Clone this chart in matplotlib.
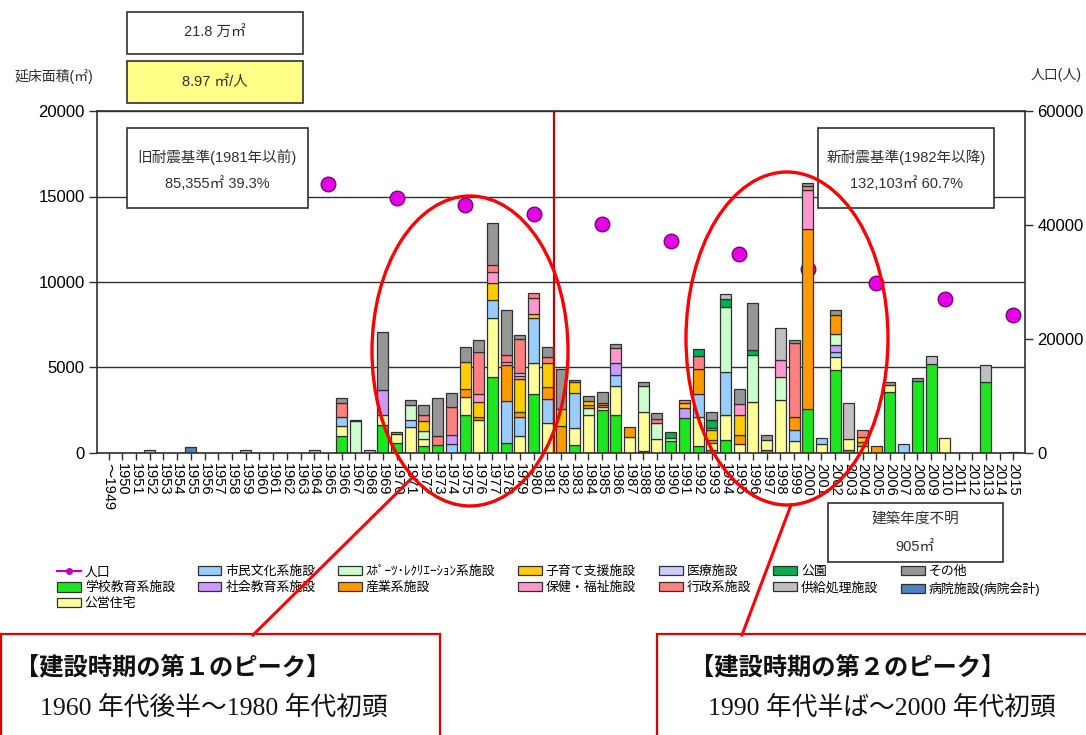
import numpy as np
import matplotlib
matplotlib.use('Agg')
import matplotlib.pyplot as plt
from matplotlib.patches import Rectangle, Ellipse, Patch
from matplotlib.lines import Line2D

plt.rcParams['font.family'] = ['Liberation Sans', 'Noto Sans CJK JP']

# ---------------- data ----------------
years = list(range(1949, 2016))
xlabels = ['～1949'] + [str(y) for y in range(1950, 2016)]

school = {1966: 1000, 1969: 1640, 1970: 585, 1972: 430, 1973: 470, 1975: 2240, 1977: 4420,
          1978: 585, 1980: 3450, 1983: 450, 1985: 2500, 1986: 2245, 1988: 117, 1990: 700,
          1991: 2070, 1992: 392, 1993: 150, 1994: 784, 1997: 199, 2000: 2597, 2002: 4836,
          2003: 158, 2006: 3567, 2008: 4210, 2009: 5228, 2013: 4152}
housing = {1966: 585, 1969: 604, 1970: 526, 1971: 1520, 1972: 392, 1975: 1053, 1976: 1930,
           1977: 3450, 1979: 1012, 1980: 1790, 1981: 1731, 1983: 1035, 1984: 2220, 1986: 1672,
           1987: 936, 1988: 2280, 1989: 842, 1992: 1713, 1993: 433, 1994: 1421, 1995: 550,
           1996: 2982, 1997: 544, 1998: 3082, 1999: 702, 2001: 509, 2002: 778, 2003: 684,
           2004: 392, 2006: 392, 2010: 850}
culture = {1966: 526, 1971: 429, 1974: 526, 1977: 1076, 1978: 2433, 1979: 1070, 1980: 2655,
           1981: 1427, 1983: 2023, 1986: 626, 1992: 1327, 1994: 2532, 1999: 626, 2001: 392,
           2002: 292, 2007: 526}
social_edu = {1969: 1462, 1974: 526, 1986: 743, 1991: 585, 2002: 392}
sports = {1967: 1880, 1971: 838, 1972: 444, 1984: 429, 1985: 175, 1988: 1520, 1989: 936,
          1990: 199, 1994: 3801, 1996: 2725, 1998: 1363, 2002: 684}
industry = {1975: 450, 1976: 175, 1978: 2146, 1979: 292, 1981: 678, 1982: 1561, 1984: 150,
            1985: 117, 1987: 585, 1992: 1462, 1993: 152, 1995: 485, 1999: 778, 2000: 10526,
            2002: 1070, 2004: 250, 2005: 392}
childcare = {1972: 585, 1975: 1556, 1976: 895, 1977: 971, 1979: 1953, 1980: 234, 1981: 1404,
             1982: 994, 1983: 643, 1984: 270, 1991: 269, 1993: 585, 1995: 1170, 2004: 292}
welfare = {1976: 433, 1977: 643, 1978: 135, 1979: 193, 1980: 912, 1986: 877, 1993: 152,
           1995: 684, 1998: 977, 2000: 2281}
medical = {1979: 175}
admin = {1966: 819, 1972: 374, 1973: 526, 1974: 1614, 1976: 2491, 1977: 433, 1978: 450,
         1979: 1950, 1980: 316, 1981: 351, 1985: 146, 1989: 193, 1991: 199, 1992: 778,
         1999: 4327, 2000: 193, 2004: 433}
park = {1990: 327, 1992: 392, 1993: 433, 1994: 491, 1996: 292}
supply = {1952: 150, 1959: 200, 1964: 150, 1968: 150, 1994: 292, 1998: 1912, 2003: 2082,
          2009: 450, 2013: 977}
other = {1966: 290, 1967: 50, 1969: 3351, 1970: 100, 1971: 290, 1972: 604, 1973: 2240,
         1974: 842, 1975: 877, 1976: 667, 1977: 2433, 1978: 2614, 1979: 275, 1981: 585,
         1982: 2380, 1983: 135, 1984: 250, 1985: 643, 1986: 193, 1988: 234, 1989: 392,
         1993: 485, 1995: 877, 1996: 2772, 1997: 292, 1999: 193, 2000: 193, 2002: 333,
         2006: 193, 2008: 175, 2015: 80}
hospital = {1955: 380}

pop_years = [1965, 1970, 1975, 1980, 1985, 1990, 1995, 2000, 2005, 2010, 2015]
population = [47200, 44700, 43500, 41900, 40200, 37200, 34900, 32300, 29800, 27000, 24200]

series = [
    ('学校教育系施設', '#1EE61E', school),
    ('公営住宅', '#FFFF99', housing),
    ('市民文化系施設', '#99CCFF', culture),
    ('社会教育系施設', '#CC99FF', social_edu),
    ('ｽﾎﾟｰﾂ･ﾚｸﾘｴｰｼｮﾝ系施設', '#CCFFCC', sports),
    ('産業系施設', '#FF9900', industry),
    ('子育て支援施設', '#FFCC00', childcare),
    ('保健・福祉施設', '#FF99CC', welfare),
    ('医療施設', '#CCCCFF', medical),
    ('行政系施設', '#FF8080', admin),
    ('公園', '#00B050', park),
    ('供給処理施設', '#C0C0C0', supply),
    ('その他', '#969696', other),
    ('病院施設(病院会計)', '#4F81BD', hospital),
]

# ---------------- figure ----------------
W, H = 1086, 735
fig = plt.figure(figsize=(W / 100, H / 100), dpi=100)
fig.patch.set_facecolor('white')

def fx(x):
    return x / W

def fy(y):
    return 1 - y / H

ax = fig.add_axes([fx(97), fy(453), 928 / W, 342 / H])
ax.set_xlim(-0.85, len(years) - 0.15)
ax.set_ylim(0, 20000)
ax.set_yticks([0, 5000, 10000, 15000, 20000])
ax.yaxis.grid(True, color='#303030', lw=1.0)
ax.set_axisbelow(True)
for s in ax.spines.values():
    s.set_color('#303030')
    s.set_linewidth(1.2)

x = np.arange(len(years))
bottom = np.zeros(len(years))
handles = {}
for label, color, d in series:
    vals = np.array([d.get(y, 0) for y in years], dtype=float)
    m = vals > 0
    if m.any():
        ax.bar(x[m], vals[m], bottom=bottom[m], width=0.8, color=color,
               edgecolor='#303030', linewidth=0.9, zorder=2)
    bottom += vals
    handles[label] = Patch(facecolor=color, edgecolor='#303030', linewidth=0.9)

ax.set_xticks(x)
ax.set_xticklabels(xlabels, rotation=-90, fontsize=10.5, va='top', ha='center')
ax.tick_params(axis='x', length=5, width=1, color='#303030', pad=2)
ax.tick_params(axis='y', length=6, width=1, color='#303030', labelsize=12, pad=3)

# divider between old / new seismic standards (1981 | 1982)
ax.axvline(years.index(1981) + 0.5, color='#C00000', lw=1.6, zorder=3)

ax2 = ax.twinx()
ax2.set_ylim(0, 60000)
ax2.set_yticks([0, 20000, 40000, 60000])
ax2.tick_params(axis='y', length=6, width=1, color='#303030', labelsize=12, pad=3)
for s in ax2.spines.values():
    s.set_visible(False)

px = np.array([years.index(y) for y in pop_years])
ax.scatter(px, population, s=110, color='#E600E6', edgecolor='#7A007A', linewidth=1.0,
           transform=ax2.transData, zorder=1.5)

# ---------------- legend ----------------
order = ['人口', '学校教育系施設', '公営住宅', '市民文化系施設', '社会教育系施設',
         'ｽﾎﾟｰﾂ･ﾚｸﾘｴｰｼｮﾝ系施設', '産業系施設', '子育て支援施設', '保健・福祉施設',
         '医療施設', '行政系施設', '公園', '供給処理施設', 'その他', '病院施設(病院会計)']
handles['人口'] = Line2D([], [], color='#C000C0', marker='o', markersize=4, lw=1.6)
fig.legend([handles[k] for k in order], order, ncol=7, loc='upper left',
           bbox_to_anchor=(fx(57), fy(566)), frameon=False, fontsize=9.3,
           handlelength=1.85, handleheight=0.75, handletextpad=0.3, columnspacing=1.75,
           labelspacing=0.28, borderpad=0, borderaxespad=0)

# ---------------- boxes & annotations ----------------
def box(x0, y0, x1, y1, fc='white', ec='#303030', lw=1.2):
    fig.add_artist(Rectangle((fx(x0), fy(y1)), (x1 - x0) / W, (y1 - y0) / H,
                             transform=fig.transFigure, facecolor=fc, edgecolor=ec,
                             linewidth=lw, zorder=4))

def ftext(x, y, s, **kw):
    kw.setdefault('ha', 'center')
    kw.setdefault('va', 'center')
    kw.setdefault('zorder', 5)
    fig.text(fx(x), fy(y), s, **kw)

box(127, 12, 303, 54)
ftext(215, 33, '21.8 万㎡', fontsize=10.5, color='#303030')
box(127, 61, 303, 103, fc='#FFFF88')
ftext(215, 82, '8.97 ㎡/人', fontsize=10.5, color='#303030')
ftext(54, 76, '延床面積(㎡)', fontsize=10, color='#303030')
ftext(1056, 75, '人口(人)', fontsize=10, color='#303030')

box(127, 128, 308, 208)
ftext(217, 157, '旧耐震基準(1981年以前)', fontsize=10.5, color='#303030')
ftext(217, 184, '85,355㎡ 39.3%', fontsize=10.5, color='#303030')
box(818, 128, 994, 208)
ftext(906, 157, '新耐震基準(1982年以降)', fontsize=10.5, color='#303030')
ftext(906, 184, '132,103㎡ 60.7%', fontsize=10.5, color='#303030')

box(828, 503, 1003, 562)
ftext(915, 519, '建築年度不明', fontsize=10.5, color='#303030')
ftext(915, 547, '905㎡', fontsize=10.5, color='#303030')

red = '#FF0000'
fig.add_artist(Ellipse((fx(470), fy(351)), 196 / W, 310 / H, transform=fig.transFigure,
                       fill=False, edgecolor=red, linewidth=2.4, zorder=6))
fig.add_artist(Ellipse((fx(787), fy(338.5)), 202 / W, 333 / H, transform=fig.transFigure,
                       fill=False, edgecolor=red, linewidth=2.4, zorder=6))
fig.add_artist(Line2D([fx(253), fx(413)], [fy(635), fy(477)], transform=fig.transFigure,
                      color=red, lw=2.2, zorder=6))
fig.add_artist(Line2D([fx(742), fx(791)], [fy(635), fy(505)], transform=fig.transFigure,
                      color=red, lw=2.2, zorder=6))

box(1, 634, 440, 745, ec='#E00000', lw=1.6)
box(657, 634, 1095, 745, ec='#E00000', lw=1.6)
ftext(15, 667, '【建設時期の第１のピーク】', ha='left', fontsize=17.5, fontweight='bold',
      color='#111111')
ftext(40, 708, '1960 年代後半～1980 年代初頭', ha='left', fontsize=18.5,
      family=['Liberation Serif', 'Noto Sans CJK JP'], color='#111111')
ftext(690, 667, '【建設時期の第２のピーク】', ha='left', fontsize=17.5, fontweight='bold',
      color='#111111')
ftext(708, 708, '1990 年代半ば～2000 年代初頭', ha='left', fontsize=18.5,
      family=['Liberation Serif', 'Noto Sans CJK JP'], color='#111111')

fig.savefig('out.png', dpi=100, facecolor='white')
